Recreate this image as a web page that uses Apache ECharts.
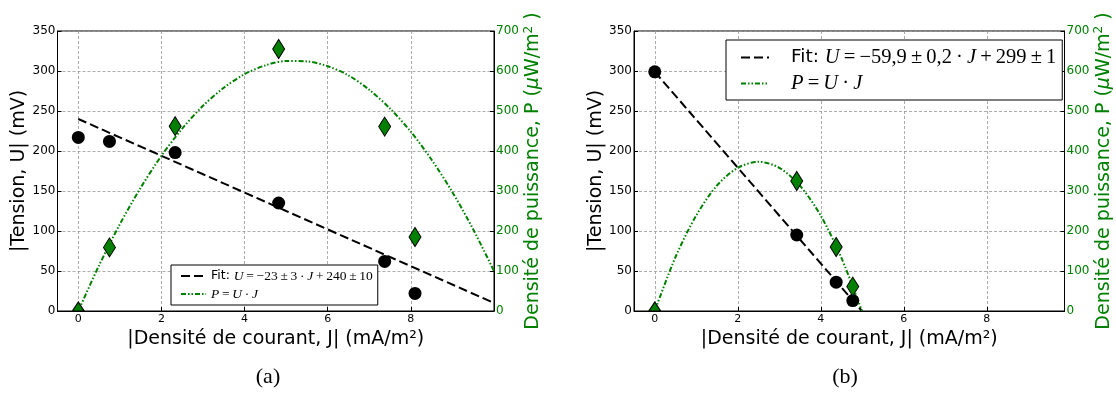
<!DOCTYPE html>
<html><head><meta charset="utf-8">
<script src="https://cdn.jsdelivr.net/npm/echarts@6/dist/echarts.min.js"></script>
<style>html,body{margin:0;padding:0;background:#fff}#c{width:1116px;height:394px}</style>
</head><body><div id="c"></div>
<script>
// ---- subplot (a) ----
const aJ = [0, 0.75, 2.33, 4.82, 7.37, 8.1];
const aU = [217, 212, 198, 135, 62, 22];
const aP = [0, 159, 462, 655, 461, 185];
const aFitJ = [0, 10];
const aFitU = [240, 10];
const aCurveJ = [0, 0.5, 1, 1.5, 2, 2.5, 3, 3.5, 4, 4.5, 5, 5.5, 6, 6.5, 7, 7.5, 8, 8.5, 9, 9.5, 10];
const aCurveP = [0, 114, 217, 308, 388, 456, 513, 558, 592, 614, 625, 624, 612, 589, 553, 506, 448, 378, 297, 204, 100];
// ---- subplot (b) ----
const bJ = [0, 3.42, 4.37, 4.77];
const bU = [299, 95, 36, 13];
const bP = [0, 325, 160, 61];
const bFitJ = [0, 4.99];
const bFitU = [299, 0];
const bCurveJ = [0, 0.5, 1, 1.5, 2, 2.5, 3, 3.5, 4, 4.5, 4.99];
const bCurveP = [0, 135, 239, 314, 358, 373, 358, 313, 238, 132, 0];
// ---- axes / texts ----
const xTicks = [0, 2, 4, 6, 8];
const xTitle = '|Densité de courant, J| (mA/m²)';
const yLeftTitle = '|Tension, U| (mV)';
const yRightTitle = 'Densité de puissance, P ({mu|μ}W/m{sup|2} )';
const T = '\u2009';
const legA = {
  fitA: '{s|Fit: }{i|U}{r|' + T + '=' + T + '−23' + T + '±' + T + '3' + T + '·' + T + '}{i|J}{r|' + T + '+' + T + '240' + T + '±' + T + '10}',
  powA: '{i|P}{r|' + T + '=' + T + '}{i|U}{r|' + T + '·' + T + '}{i|J}'
};
const legB = {
  fitB: '{s|Fit: }{i|U}{r|' + T + '=' + T + '−59,9' + T + '±' + T + '0,2' + T + '·' + T + '}{i|J}{r|' + T + '+' + T + '299' + T + '±' + T + '1}',
  powB: '{i|P}{r|' + T + '=' + T + '}{i|U}{r|' + T + '·' + T + '}{i|J}'
};
const captions = ['(a)', '(b)'];

const GREEN = '#008000';
const SANS = 'DejaVu Sans';
const SERIF = 'Liberation Serif';

function pairs(xs, ys) { return xs.map((x, i) => [x, ys[i]]); }
function diamonds(xs, ys) {
  return xs.map((x, i) => ys[i] === 0
    ? { value: [x, ys[i]], symbol: 'triangle', symbolSize: [12, 9], symbolOffset: [0, -4.5] }
    : { value: [x, ys[i]] });
}

function xAxisDef(idx, max) {
  return {
    type: 'value', gridIndex: idx, min: -0.5, max: max,
    name: xTitle, nameLocation: 'middle', nameGap: 11,
    nameTextStyle: { fontFamily: SANS, fontSize: 19, color: '#000' },
    axisLine: { show: true, onZero: false, lineStyle: { color: '#000' } },
    axisTick: { show: true, inside: true, length: 4, customValues: xTicks, lineStyle: { color: '#000' } },
    axisLabel: { customValues: xTicks, fontFamily: SANS, fontSize: 11, color: '#000', margin: 3 },
    splitLine: { show: true, lineStyle: { color: '#999', type: [3, 2], width: 0.8 } }
  };
}
function yLeftDef(idx) {
  return {
    type: 'value', gridIndex: idx, position: 'left', min: 0, max: 350, interval: 50,
    name: yLeftTitle, nameLocation: 'middle', nameRotate: 90, nameGap: 26,
    nameTextStyle: { fontFamily: SANS, fontSize: 19, color: '#000' },
    axisLine: { show: true, onZero: false, lineStyle: { color: '#000' } },
    axisTick: { show: true, inside: true, length: 4, lineStyle: { color: '#000' } },
    axisLabel: { fontFamily: SANS, fontSize: 12, color: '#000', margin: 2 },
    splitLine: { show: true, lineStyle: { color: '#999', type: [3, 2], width: 0.8 } }
  };
}
function yRightDef(idx) {
  return {
    type: 'value', gridIndex: idx, position: 'right', min: 0, max: 700, interval: 100,
    name: yRightTitle, nameLocation: 'middle', nameRotate: 90, nameGap: 28,
    nameTextStyle: { fontFamily: SANS, fontSize: 19, color: GREEN,
      rich: { mu: { fontFamily: SANS, fontStyle: 'italic', fontSize: 19, color: GREEN },
              sup: { fontFamily: SANS, fontSize: 12, color: GREEN, verticalAlign: 'top', padding: [0, 0, 9, 0] } } },
    axisLine: { show: true, onZero: false, lineStyle: { color: '#000' } },
    axisTick: { show: true, inside: true, length: 4, lineStyle: { color: '#000' } },
    axisLabel: { fontFamily: SANS, fontSize: 12, color: GREEN, margin: 2 },
    splitLine: { show: false }
  };
}
const richLeg = (fs, fm) => ({
  s: { fontFamily: SANS, fontSize: fs, color: '#000' },
  i: { fontFamily: SERIF, fontStyle: 'italic', fontSize: fm, color: '#000' },
  r: { fontFamily: SERIF, fontSize: fm, color: '#000' }
});

function lineSeries(name, xi, yi, data, color, dash) {
  return { name, type: 'line', xAxisIndex: xi, yAxisIndex: yi, data, symbol: 'none', showSymbol: false,
    smooth: 0.3, lineStyle: { color, width: 2, type: dash }, itemStyle: { color }, z: 3, clip: true };
}
function circleSeries(xi, yi, data) {
  return { type: 'scatter', xAxisIndex: xi, yAxisIndex: yi, data, symbol: 'circle', symbolSize: 13,
    itemStyle: { color: '#000', opacity: 1 }, z: 5 };
}
function diamondSeries(xi, yi, data) {
  return { type: 'scatter', xAxisIndex: xi, yAxisIndex: yi, data, symbol: 'diamond', symbolSize: [12, 19],
    itemStyle: { color: GREEN, borderColor: '#000', borderWidth: 1, opacity: 1 }, z: 6 };
}

const DASH = [9, 4];
const DASHDOT = [5, 2, 1.5, 2, 1.5, 2];
const captionStyle = { fontFamily: SERIF, fontSize: 22, fontWeight: 'normal', color: '#000' };

const option = {
  animation: false,
  backgroundColor: '#fff',
  title: [
    { text: captions[0], left: 268, top: 366, textAlign: 'center', padding: 0, textStyle: captionStyle },
    { text: captions[1], left: 845, top: 366, textAlign: 'center', padding: 0, textStyle: captionStyle }
  ],
  grid: [
    { left: 57.5, right: 1116 - 494, top: 31, height: 280, show: true, borderColor: '#000', borderWidth: 1, backgroundColor: 'transparent' },
    { left: 634, right: 1116 - 1064.5, top: 31, height: 280, show: true, borderColor: '#000', borderWidth: 1, backgroundColor: 'transparent' }
  ],
  xAxis: [xAxisDef(0, 10), xAxisDef(1, 9.87)],
  yAxis: [yLeftDef(0), yRightDef(0), yLeftDef(1), yRightDef(1)],
  legend: [
    { data: Object.keys(legA), orient: 'vertical', left: 171, top: 265, itemWidth: 25, itemHeight: 1, itemGap: 4,
      itemStyle: { opacity: 0 },
      padding: [4, 5, 4, 9], borderColor: '#000', borderWidth: 1, backgroundColor: '#fff', borderRadius: 0,
      formatter: n => legA[n], textStyle: { rich: richLeg(12.5, 13.5) }, selectedMode: false },
    { data: Object.keys(legB), orient: 'vertical', left: 726, top: 40, itemWidth: 28, itemHeight: 1, itemGap: 5,
      itemStyle: { opacity: 0 },
      padding: [7, 6, 6, 14], borderColor: '#000', borderWidth: 1, backgroundColor: '#fff', borderRadius: 0,
      formatter: n => legB[n], textStyle: { padding: [0, 0, 0, 17], rich: richLeg(18.5, 20.5) }, selectedMode: false }
  ],
  series: [
    lineSeries('fitA', 0, 0, pairs(aFitJ, aFitU), '#000', DASH),
    lineSeries('powA', 0, 1, pairs(aCurveJ, aCurveP), GREEN, DASHDOT),
    circleSeries(0, 0, pairs(aJ, aU)),
    diamondSeries(0, 1, diamonds(aJ, aP)),
    lineSeries('fitB', 1, 2, pairs(bFitJ, bFitU), '#000', DASH),
    lineSeries('powB', 1, 3, pairs(bCurveJ, bCurveP), GREEN, DASHDOT),
    circleSeries(1, 2, pairs(bJ, bU)),
    diamondSeries(1, 3, diamonds(bJ, bP))
  ]
};
const chart = echarts.init(document.getElementById('c'), null, { renderer: 'canvas' });
chart.setOption(option);
</script></body></html>
